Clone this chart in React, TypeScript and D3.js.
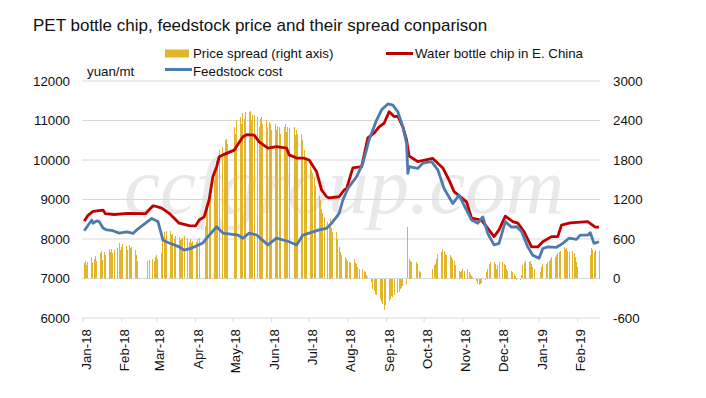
import * as d3 from "d3";

// daily values (key points for the two price lines)
const chipPrice: [string, number][] = [
  ["2018-01-02", 8450], ["2018-01-05", 8600], ["2018-01-09", 8700], ["2018-01-17", 8730],
  ["2018-01-19", 8640], ["2018-01-26", 8620], ["2018-02-06", 8650], ["2018-02-20", 8640],
  ["2018-02-26", 8840], ["2018-02-28", 8830], ["2018-03-05", 8780], ["2018-03-11", 8650],
  ["2018-03-19", 8400], ["2018-03-27", 8340], ["2018-04-01", 8330], ["2018-04-04", 8480],
  ["2018-04-08", 8560], ["2018-04-12", 9000], ["2018-04-15", 9580], ["2018-04-18", 9830],
  ["2018-04-20", 10080], ["2018-04-23", 10130], ["2018-05-02", 10250], ["2018-05-09", 10590],
  ["2018-05-12", 10640], ["2018-05-18", 10630], ["2018-05-22", 10460], ["2018-05-29", 10300],
  ["2018-06-05", 10340], ["2018-06-13", 10300], ["2018-06-15", 10130], ["2018-06-21", 10050],
  ["2018-06-26", 10050], ["2018-07-01", 10000], ["2018-07-07", 9700], ["2018-07-11", 9240],
  ["2018-07-15", 9070], ["2018-07-17", 9040], ["2018-07-25", 9070], ["2018-07-29", 9240],
  ["2018-07-31", 9280], ["2018-08-02", 9490], ["2018-08-05", 9800], ["2018-08-12", 9830],
  ["2018-08-17", 10560], ["2018-08-22", 10680], ["2018-08-26", 10840], ["2018-08-30", 10930],
  ["2018-09-03", 11220], ["2018-09-07", 11100], ["2018-09-10", 11110], ["2018-09-14", 10840],
  ["2018-09-17", 10510], ["2018-09-19", 10100], ["2018-09-26", 9960], ["2018-10-08", 10040],
  ["2018-10-16", 9800], ["2018-10-21", 9490], ["2018-10-25", 9200], ["2018-11-04", 8940],
  ["2018-11-08", 8530], ["2018-11-16", 8480], ["2018-11-21", 8270], ["2018-11-26", 8060],
  ["2018-11-30", 8230], ["2018-12-05", 8580], ["2018-12-11", 8440], ["2018-12-15", 8400],
  ["2018-12-20", 8190], ["2018-12-26", 7800], ["2018-12-31", 7800], ["2019-01-04", 7930],
  ["2019-01-11", 8060], ["2019-01-16", 8060], ["2019-01-19", 8350], ["2019-01-26", 8410],
  ["2019-02-09", 8440], ["2019-02-15", 8300], ["2019-02-18", 8300],
];

const feedstockCost: [string, number][] = [
  ["2018-01-02", 8210], ["2018-01-08", 8480], ["2018-01-09", 8400], ["2018-01-12", 8460],
  ["2018-01-14", 8440], ["2018-01-17", 8280], ["2018-01-20", 8230], ["2018-01-25", 8210],
  ["2018-01-30", 8150], ["2018-02-05", 8180], ["2018-02-10", 8140], ["2018-02-13", 8230],
  ["2018-02-18", 8350], ["2018-02-25", 8520], ["2018-03-02", 8440], ["2018-03-06", 7970],
  ["2018-03-11", 7900], ["2018-03-15", 7850], ["2018-03-19", 7800], ["2018-03-23", 7720],
  ["2018-03-29", 7770], ["2018-04-07", 7900], ["2018-04-11", 8060], ["2018-04-18", 8310],
  ["2018-04-23", 8150], ["2018-05-05", 8100], ["2018-05-09", 8020], ["2018-05-14", 8150],
  ["2018-05-20", 8100], ["2018-05-29", 7850], ["2018-06-05", 8020], ["2018-06-15", 7930],
  ["2018-06-21", 7850], ["2018-06-26", 8100], ["2018-07-01", 8150], ["2018-07-09", 8230],
  ["2018-07-15", 8270], ["2018-07-19", 8400], ["2018-07-23", 8560], ["2018-07-25", 8650],
  ["2018-07-28", 8990], ["2018-08-01", 9280], ["2018-08-08", 9580], ["2018-08-13", 9920],
  ["2018-08-18", 10510], ["2018-08-24", 11010], ["2018-08-28", 11270], ["2018-09-02", 11420],
  ["2018-09-06", 11390], ["2018-09-10", 11220], ["2018-09-14", 10840], ["2018-09-17", 10420],
  ["2018-09-18", 9660], ["2018-09-19", 9830], ["2018-09-26", 9790], ["2018-09-30", 9920],
  ["2018-10-07", 9960], ["2018-10-12", 9750], ["2018-10-17", 9280], ["2018-10-24", 8900],
  ["2018-10-29", 9110], ["2018-11-04", 8730], ["2018-11-08", 8480], ["2018-11-13", 8400],
  ["2018-11-17", 8560], ["2018-11-21", 8140], ["2018-11-26", 7850], ["2018-11-30", 7890],
  ["2018-12-05", 8440], ["2018-12-10", 8300], ["2018-12-14", 8310], ["2018-12-18", 8190],
  ["2018-12-23", 7800], ["2018-12-27", 7590], ["2019-01-01", 7510], ["2019-01-04", 7760],
  ["2019-01-08", 7800], ["2019-01-15", 7790], ["2019-01-20", 7890], ["2019-01-25", 8020],
  ["2019-01-31", 7990], ["2019-02-03", 8100], ["2019-02-09", 8100], ["2019-02-11", 8160],
  ["2019-02-14", 7890], ["2019-02-18", 7930],
];

// price spread, one row per week: Monday date, then Mon..Fri (null = holiday)
const spreadWeeks: [string, (number | null)[]][] = [
  ["2018-01-01", [null, 240, 260, 200, 250]],
  ["2018-01-08", [330, 230, 300, 340, 260]],
  ["2018-01-15", [390, 420, 280, 400, 360]],
  ["2018-01-22", [450, 400, 455, 380, 440]],
  ["2018-01-29", [470, 536, 440, 480, 520]],
  ["2018-02-05", [500, 440, 510, 460, 480]],
  ["2018-02-12", [430, 350, 270, null, null]],
  ["2018-02-19", [null, null, null, 270, 285]],
  ["2018-02-26", [300, 260, 320, 350, 300]],
  ["2018-03-05", [380, 650, 700, 620, 720]],
  ["2018-03-12", [720, 660, 680, 600, 640]],
  ["2018-03-19", [630, 580, 600, 620, 640]],
  ["2018-03-26", [620, 560, 600, 540, 570]],
  ["2018-04-02", [560, 600, 620, null, null]],
  ["2018-04-09", [800, 1000, 1150, 1300, 1440]],
  ["2018-04-16", [1500, 1650, 1790, 1700, 1950]],
  ["2018-04-23", [2000, 1900, 2100, 2120, 2050]],
  ["2018-04-30", [null, null, 2300, 2200, 2400]],
  ["2018-05-07", [2450, 2350, 2510, 2420, 2530]],
  ["2018-05-14", [2530, 2550, 2400, 2480, 2490]],
  ["2018-05-21", [2450, 2300, 2430, 2460, 2350]],
  ["2018-05-28", [2400, 2300, 2380, 2350, 2250]],
  ["2018-06-04", [2340, 2250, 2320, 2300, 2200]],
  ["2018-06-11", [2300, 2350, 2220, 2300, 2280]],
  ["2018-06-18", [null, 2300, 2180, 2250, 2200]],
  ["2018-06-25", [2200, 2100, 1950, 1850, 1850]],
  ["2018-07-02", [1750, 1650, 1600, 1540, 1400]],
  ["2018-07-09", [1250, 1185, 1050, 990, 930]],
  ["2018-07-16", [860, 835, 910, 760, 700]],
  ["2018-07-23", [700, 600, 480, 400, 350]],
  ["2018-07-30", [320, 300, 260, 250, 240]],
  ["2018-08-06", [300, 230, 220, 180, 150]],
  ["2018-08-13", [150, 120, 95, 50, 20]],
  ["2018-08-20", [-50, -150, -180, -230, -250]],
  ["2018-08-27", [-300, -350, -380, -470, -400]],
  ["2018-09-03", [-330, -300, -260, -280, -250]],
  ["2018-09-10", [-210, -200, -150, -130, -100]],
  ["2018-09-17", [-80, 780, 300, 270, 250]],
  ["2018-09-24", [null, 250, 220, 120, 95]],
  ["2018-10-01", [null, null, null, null, null]],
  ["2018-10-08", [150, 200, 220, 300, 375]],
  ["2018-10-15", [400, 450, 425, 375, 350]],
  ["2018-10-22", [350, 320, 300, 270, 200]],
  ["2018-10-29", [120, 95, 110, 145, 120]],
  ["2018-11-05", [145, 95, 70, 45, 20]],
  ["2018-11-12", [-30, -80, -90, -70, -60]],
  ["2018-11-19", [-20, 95, 150, 220, 250]],
  ["2018-11-26", [250, 220, 145, 200, 250]],
  ["2018-12-03", [250, 225, 200, 150, 120]],
  ["2018-12-10", [120, 100, 70, 40, -20]],
  ["2018-12-17", [-20, 50, 200, 230, 270]],
  ["2018-12-24", [250, 270, 220, 170, 150]],
  ["2018-12-31", [null, null, 95, 170, 220]],
  ["2019-01-07", [220, 250, 270, 300, 320]],
  ["2019-01-14", [320, 350, 380, 400, 425]],
  ["2019-01-21", [475, 450, 460, 425, 400]],
  ["2019-01-28", [425, 380, 320, 250, 170]],
  ["2019-02-04", [null, null, null, null, null]],
  ["2019-02-11", [350, 470, 440, 400, 430]],
  ["2019-02-18", [420]],
];

const monthLabels = [
  "Jan-18", "Feb-18", "Mar-18", "Apr-18", "May-18", "Jun-18", "Jul-18",
  "Aug-18", "Sep-18", "Oct-18", "Nov-18", "Dec-18", "Jan-19", "Feb-19",
];
const leftTicks = [6000, 7000, 8000, 9000, 10000, 11000, 12000];
const rightTicks = [-600, 0, 600, 1200, 1800, 2400, 3000];

const parse = d3.timeParse("%Y-%m-%d");
const font = "'Liberation Sans', Arial, sans-serif";

type Pt = { date: Date; value: number };

export default function App() {
  const width = 706;
  const height = 398;
  const plot = { left: 82, right: 600, top: 81, bottom: 318 };

  const x = d3
    .scaleTime()
    .domain([parse("2018-01-01")!, parse("2019-02-18")!])
    .range([83, 599]);
  const yLeft = d3.scaleLinear().domain([6000, 12000]).range([plot.bottom, plot.top]);
  const yRight = d3.scaleLinear().domain([-600, 3000]).range([plot.bottom, plot.top]);

  const toPts = (rows: [string, number][]): Pt[] =>
    rows.map(([d, v]) => ({ date: parse(d)!, value: v }));

  const spread: Pt[] = spreadWeeks.flatMap(([monday, vals]) =>
    vals
      .map((v, i) => ({ date: d3.timeDay.offset(parse(monday)!, i), value: v }))
      .filter((d): d is Pt => d.value !== null)
  );

  const line = d3
    .line<Pt>()
    .x((d) => x(d.date))
    .y((d) => yLeft(d.value));

  const monthTicks = monthLabels.map((label, i) => ({
    label,
    date: d3.timeMonth.offset(parse("2018-01-01")!, i),
  }));

  const barColor = "#e4b52a";

  return (
    <svg
      width={width}
      height={height}
      style={{ position: "absolute", left: 0, top: 0, background: "#fff" }}
      fontFamily={font}
    >
      <rect width={width} height={height} fill="#fff" />
      <text x={33} y={31} fontSize={17} fill="#111">
        PET bottle chip, feedstock price and their spread conparison
      </text>

      {/* watermark */}
      <text
        x={124}
        y={213}
        fontSize={81}
        fontStyle="italic"
        fontFamily="'Liberation Serif', 'DejaVu Serif', serif"
        fill="#e9e9e9"
      >
        ccfgroup.com
      </text>

      {leftTicks.map((t) => (
        <line
          key={t}
          x1={plot.left}
          x2={plot.right}
          y1={yLeft(t)}
          y2={yLeft(t)}
          stroke="#d9d9d9"
          strokeWidth={1}
        />
      ))}
      {monthTicks.map((m) => (
        <line
          key={m.label}
          x1={x(m.date)}
          x2={x(m.date)}
          y1={plot.bottom}
          y2={plot.bottom + 4}
          stroke="#d9d9d9"
        />
      ))}

      {/* one-pixel daily bars, snapped so weekends and rounding leave gaps */}
      <g fill={barColor} shapeRendering="crispEdges">
        {spread.map((d, i) => {
          const y0 = yRight(0);
          const y1 = yRight(d.value);
          return (
            <rect
              key={i}
              x={Math.floor(x(d.date))}
              y={Math.round(Math.min(y0, y1))}
              width={1}
              height={Math.max(1, Math.round(Math.abs(y1 - y0)))}
            />
          );
        })}
      </g>

      <path
        d={line(toPts(chipPrice)) ?? undefined}
        fill="none"
        stroke="#c00000"
        strokeWidth={2.8}
        strokeLinejoin="round"
      />
      <path
        d={line(toPts(feedstockCost)) ?? undefined}
        fill="none"
        stroke="#4e7bad"
        strokeWidth={2.8}
        strokeLinejoin="round"
      />

      <g fontSize={13.3} fill="#111">
        {leftTicks.map((t) => (
          <text key={t} x={70} y={yLeft(t)} dy="0.35em" textAnchor="end">
            {t}
          </text>
        ))}
        {rightTicks.map((t) => (
          <text key={t} x={613} y={yRight(t)} dy="0.35em">
            {t}
          </text>
        ))}
        {monthTicks.map((m) => (
          <text
            key={m.label}
            transform={`translate(${x(m.date)},329) rotate(-90)`}
            y={7.5}
            textAnchor="end"
          >
            {m.label}
          </text>
        ))}

        <text x={87} y={76}>yuan/mt</text>
        <rect x={165} y={49.5} width={24} height={8} fill={barColor} />
        <text x={193} y={58}>Price spread (right axis)</text>
        <line x1={386} x2={413} y1={53.5} y2={53.5} stroke="#c00000" strokeWidth={3} />
        <text x={415} y={58}>Water bottle chip in E. China</text>
        <line x1={165} x2={192} y1={69.5} y2={69.5} stroke="#4e7bad" strokeWidth={3} />
        <text x={193} y={76}>Feedstock cost</text>
      </g>
    </svg>
  );
}
